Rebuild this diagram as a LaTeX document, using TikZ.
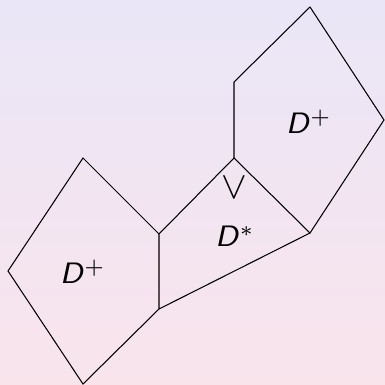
\documentclass[tikz,border=0pt]{standalone}
\definecolor{bgtop}{RGB}{234,230,247}
\definecolor{bgbot}{RGB}{249,228,236}
\tikzset{face/.style={draw=black,line width=0.3pt,line join=miter},
  lab/.style={font=\fontsize{8.4}{10}\selectfont\sffamily,inner sep=0pt},
  veelab/.style={font=\fontsize{11}{13}\selectfont,inner sep=0pt}}
\begin{document}
\begin{tikzpicture}[x=0.01cm,y=-0.01cm]
\shade[top color=bgtop,bottom color=bgbot] (0,0) rectangle (385,385);
\useasboundingbox (0,0) rectangle (385,385);
\coordinate (a) at (8,271);
\coordinate (b) at (83,158);
\coordinate (c) at (159,234);
\coordinate (d) at (159,309);
\coordinate (e) at (83,384);
\coordinate (f) at (234,158);
\coordinate (g) at (310,233);
\coordinate (h) at (234,82);
\coordinate (i) at (310,7);
\coordinate (j) at (384,120);
\draw[face] (c) -- (b) -- (a) -- (e) -- (d);
\draw[face] (d) -- (c) -- (f) -- (g) -- cycle;
\draw[face] (f) -- (h) -- (i) -- (j) -- (g);
\node[lab] (l1) at (83,272) {\textit{D}$^{+}$};
\node[lab] (l2) at (309,122) {\textit{D}$^{+}$};
\node[lab] (l3) at (235,236) {\textit{D}$^{*}$};
\node[veelab] (l4) at (234,188) {$\vee$};
\end{tikzpicture}
\end{document}
